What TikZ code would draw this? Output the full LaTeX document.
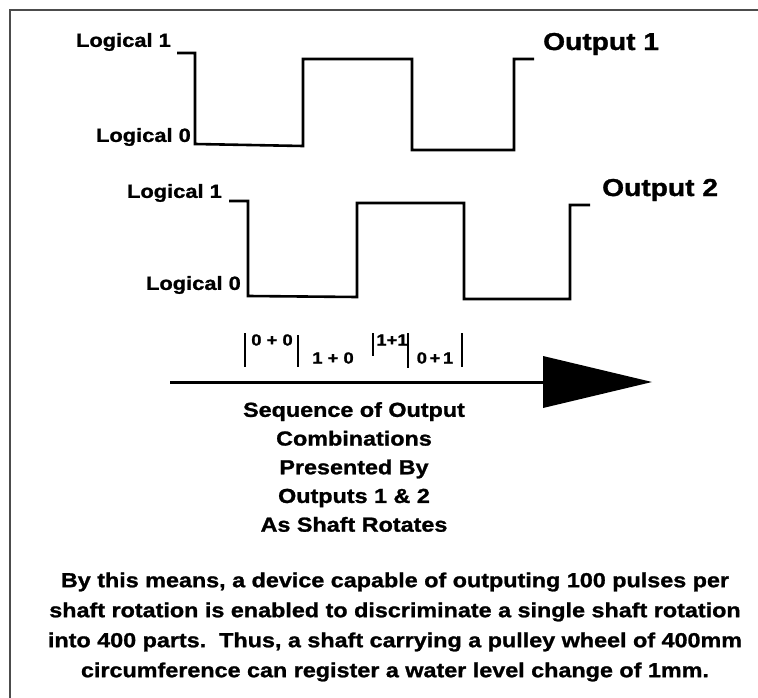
\documentclass[tikz,border=0pt]{standalone}
\usepackage{fontspec}
\setmainfont{Liberation Sans}[FakeStretch=1.15, BoldFeatures={FakeBold=1.2}]
\begin{document}
\begin{tikzpicture}[x=1pt,y=-1pt,
  wave/.style={line width=2.6pt, line join=miter, line cap=butt},
  lbl/.style={font=\bfseries\fontsize{19}{22}\selectfont, inner sep=0pt},
  outlbl/.style={font=\bfseries\fontsize{24.5}{28}\selectfont, inner sep=0pt, anchor=west},
  seq/.style={font=\bfseries\fontsize{16}{18}\selectfont, inner sep=0pt},
  bar/.style={line width=1.6pt},
  border/.style={line width=1.3pt, draw=black!70},
  body/.style={font=\bfseries\fontsize{20.3}{28.7}\selectfont, inner sep=0pt, align=center}]
\useasboundingbox (0,0) rectangle (758,698);
% border (top and left only)
\coordinate (bl) at (10,698);
\coordinate (tl) at (10,10);
\coordinate (tr) at (758,10);
\draw[border] (bl) -- (tl) -- (tr);

% waveform 1
\draw[wave] (177,53) -- (195,53) -- (195,144) -- (303,146) -- (303,59) -- (412,59)
  -- (412,150) -- (514,150) -- (514,59) -- (534,59);
% waveform 2
\draw[wave] (229,201) -- (248,201) -- (248,296) -- (357,297) -- (357,203) -- (464,203)
  -- (464,299) -- (570,299) -- (570,205) -- (590,205);

\node[lbl, anchor=east] (l1a) at (171,42) {Logical 1};
\node[lbl, anchor=east] (l0a) at (191,137) {Logical 0};
\node[outlbl] (o1) at (543,44) {Output 1};
\node[lbl, anchor=east] (l1b) at (222,193) {Logical 1};
\node[lbl, anchor=east] (l0b) at (241,285) {Logical 0};
\node[outlbl] (o2) at (602,190) {Output 2};

% combination labels
\draw[bar] (245,333) -- (245,367);
\draw[bar] (298,335) -- (298,367);
\draw[bar] (373,333) -- (373,356);
\draw[bar] (408,333) -- (408,368);
\draw[bar] (462,333) -- (462,367);
\node[seq] (c00) at (272,340) {0 + 0};
\node[seq] (c10) at (333,358) {1 + 0};
\node[seq] (c11) at (392,340) {1+1};
\node[seq] (c01) at (435,358) {0\,+\,1};

% arrow
\coordinate (astart) at (170,382);
\coordinate (abase) at (546,382);
\draw[line width=3pt] (astart) -- (abase);
\fill (543,356) -- (652,382) -- (543,408) -- cycle;

\node[body] (seqtxt) at (354,467) {Sequence of Output\\Combinations\\Presented By\\Outputs 1 \& 2\\As Shaft Rotates};

\node[body, font=\bfseries\fontsize{20.3}{30}\selectfont] (para) at (395,627) {By this means, a device capable of outputing 100 pulses per\\
shaft rotation is enabled to discriminate a single shaft rotation\\
into 400 parts.\ \ Thus, a shaft carrying a pulley wheel of 400mm\\
circumference can register a water level change of 1mm.};
\end{tikzpicture}
\end{document}
